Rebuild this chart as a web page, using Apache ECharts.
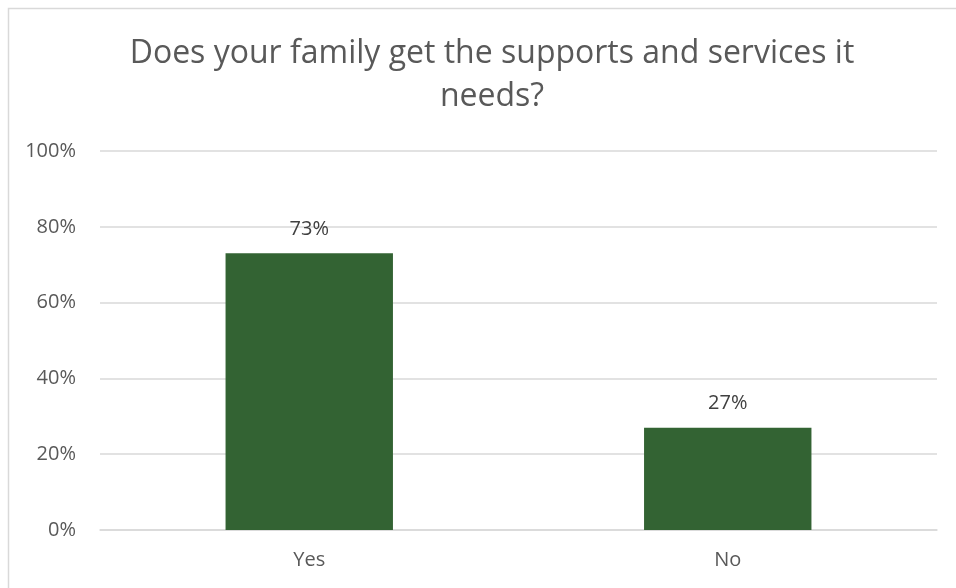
<!DOCTYPE html>
<html><head><meta charset="utf-8">
<script src="https://cdn.jsdelivr.net/npm/echarts@6/dist/echarts.min.js"></script>
<style>html,body{margin:0;padding:0;background:#fff}#c{width:956px;height:588px}</style>
</head><body><div id="c"></div>
<script>
const categories = ['Yes', 'No'];
const values = [73, 27];
const yTicks = [0, 20, 40, 60, 80, 100];
const titleText = 'Does your family get the supports and services it\nneeds?';

const chart = echarts.init(document.getElementById('c'));
chart.setOption({
  animation: false,
  backgroundColor: '#fff',
  title: {
    text: titleText,
    left: 487, top: 27, textAlign: 'center',
    textStyle: { fontFamily: 'Open Sans', fontSize: 32, fontWeight: 'normal', color: '#595959', lineHeight: 43 }
  },
  graphic: [{
    type: 'rect', left: 6, top: 6, silent: true,
    shape: { width: 960, height: 600 },
    style: { fill: 'none', stroke: '#d9d9d9', lineWidth: 1.5 }
  }],
  grid: { left: 100, right: 19, top: 151, bottom: 58, containLabel: false },
  xAxis: {
    type: 'category', data: categories,
    axisLine: { lineStyle: { color: '#d9d9d9', width: 1.5 } },
    axisTick: { show: false },
    axisLabel: { color: '#595959', fontFamily: 'Open Sans', fontSize: 20, margin: 20 }
  },
  yAxis: {
    type: 'value', min: yTicks[0], max: yTicks[yTicks.length - 1], interval: 20,
    axisLine: { show: false }, axisTick: { show: false },
    splitLine: { lineStyle: { color: '#d9d9d9', width: 1.5 } },
    axisLabel: { color: '#595959', fontFamily: 'Open Sans', fontSize: 20, margin: 24, formatter: v => v + '%' }
  },
  series: [{
    type: 'bar', data: values, barWidth: '40%',
    itemStyle: { color: '#336333' },
    label: { show: true, position: 'top', distance: 14, color: '#404040', fontFamily: 'Open Sans', fontSize: 20, formatter: p => p.value + '%' }
  }]
});
</script></body></html>
